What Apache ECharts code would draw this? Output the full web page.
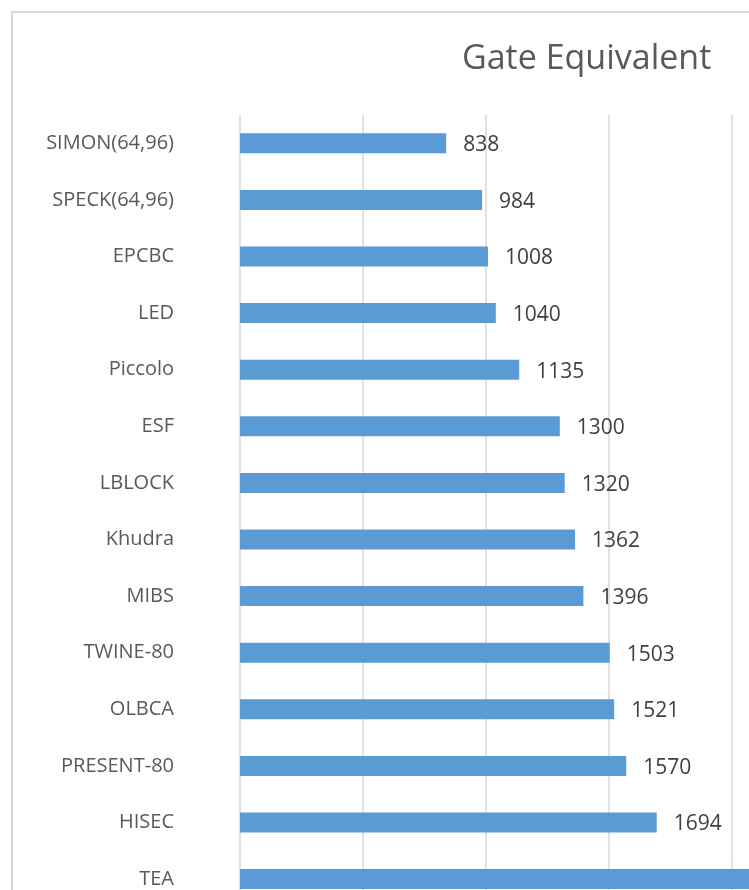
<!DOCTYPE html>
<html>
<head>
<meta charset="utf-8">
<script src="https://cdn.jsdelivr.net/npm/echarts@6/dist/echarts.min.js"></script>
<style>
html,body{margin:0;padding:0;background:#fff;overflow:hidden;width:749px;height:890px;}
#c{width:1200px;height:1000px;}
</style>
</head>
<body>
<div id="c"></div>
<script>
const categories = ["SIMON(64,96)","SPECK(64,96)","EPCBC","LED","Piccolo","ESF","LBLOCK","Khudra","MIBS","TWINE-80","OLBCA","PRESENT-80","HISEC","TEA"];
const values = [838,984,1008,1040,1135,1300,1320,1362,1396,1503,1521,1570,1694,2355];
const chartTitle = "Gate Equivalent";

const chart = echarts.init(document.getElementById('c'), null, {renderer:'canvas'});
const font = "'Open Sans', sans-serif";
chart.setOption({
  animation:false,
  backgroundColor:'#ffffff',
  title:{text:chartTitle,left:457,top:37,textStyle:{fontFamily:font,fontSize:34,fontWeight:'normal',color:'#595959'}},
  graphic:[{type:'rect',shape:{x:12,y:12,width:1400,height:1400},style:{fill:'none',stroke:'#d9d9d9',lineWidth:2},z:-1}],
  grid:{left:240,top:115,width:615,height:792.4,containLabel:false},
  xAxis:{type:'value',min:0,max:2500,interval:500,axisLabel:{show:false},axisLine:{show:false},axisTick:{show:false},
    splitLine:{show:true,lineStyle:{color:'#d9d9d9',width:1.5}}},
  yAxis:{type:'category',data:categories,inverse:true,axisLine:{show:false},axisTick:{show:false},
    axisLabel:{margin:66,fontFamily:font,fontSize:20,color:'#595959'}},
  series:[{type:'bar',data:values,barWidth:20,itemStyle:{color:'#5B9BD5'},
    label:{show:true,position:'right',distance:17,offset:[0,2],fontFamily:font,fontSize:21,color:'#404040'}}]
});
</script>
</body>
</html>
